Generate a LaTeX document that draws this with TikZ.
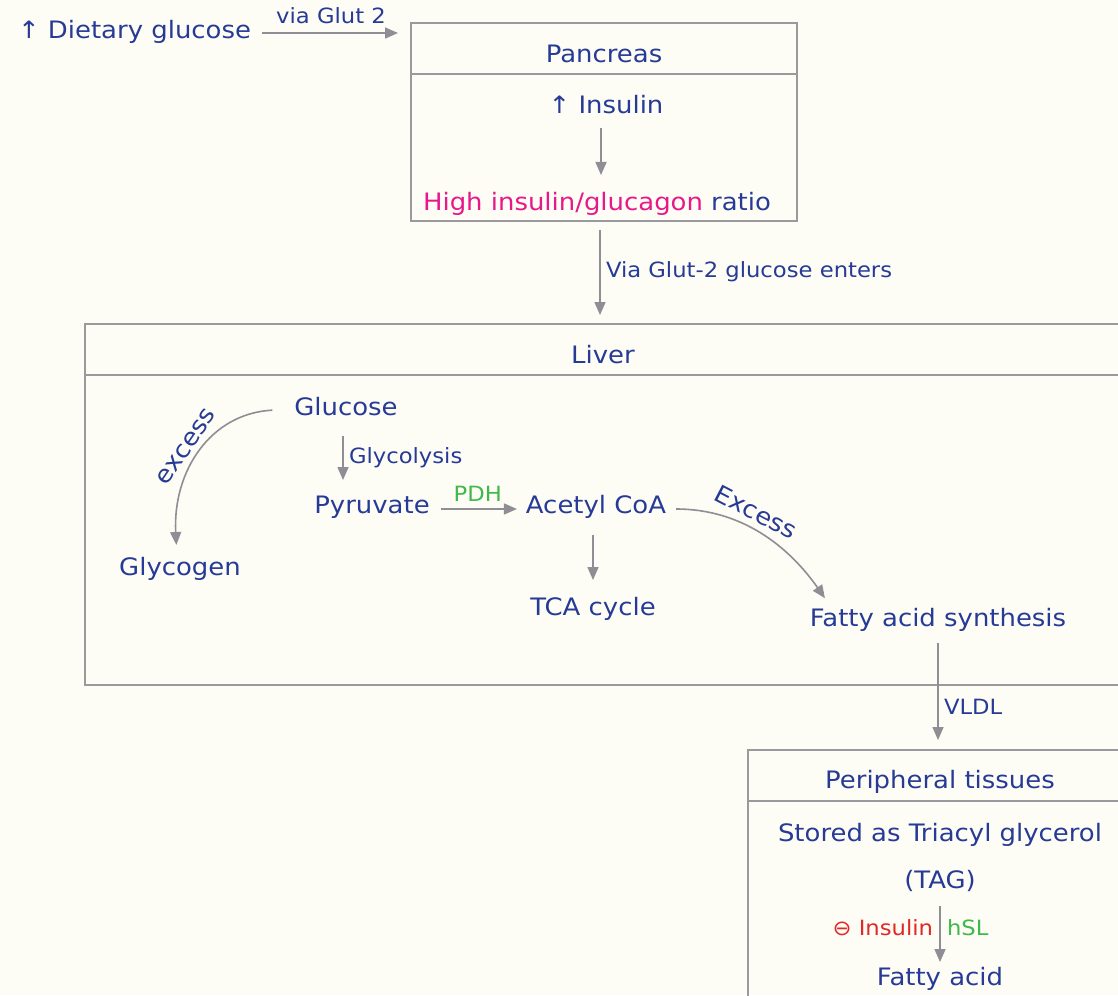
\documentclass[tikz,border=0pt]{standalone}
\usepackage{fontspec}
\setmainfont{DejaVu Sans}[FakeStretch=1.08]
\usetikzlibrary{arrows.meta}
\definecolor{paper}{HTML}{FDFDF5}
\definecolor{ink}{HTML}{263A96}
\definecolor{edge}{HTML}{9A9A9E}
\definecolor{wire}{HTML}{8E8E94}
\definecolor{hot}{HTML}{E8178A}
\definecolor{leaf}{HTML}{40B84A}
\definecolor{alarm}{HTML}{E02828}
\begin{document}
\begin{tikzpicture}[x=1pt,y=-1pt,
  every node/.style={inner sep=0pt, outer sep=0pt},
  txt/.style={text=ink, font=\fontsize{24}{28}\selectfont, text height=18pt, text depth=6pt},
  lbl/.style={text=ink, font=\fontsize{21}{25}\selectfont, text height=15pt, text depth=5pt},
  frame/.style={draw=edge, line width=1.6pt},
  divider/.style={draw=edge, line width=1.6pt},
  arr/.style={draw=wire, line width=1.6pt, -{Triangle[length=13pt,width=11pt]}},
]
\fill[paper] (0,0) rectangle (1118,995);
\useasboundingbox (0,0) rectangle (1118,995);
\clip (0,0) rectangle (1118,995);

% ---------- compartments ----------
\node[frame, anchor=north west, minimum width=386pt, minimum height=198pt] (pancreas) at (411,23) {};
\draw[divider] ([yshift=-51pt]pancreas.north west) -- ([yshift=-51pt]pancreas.north east);
\node[frame, anchor=north west, minimum width=1060pt, minimum height=361pt] (liver) at (85,324) {};
\draw[divider] ([yshift=-51pt]liver.north west) -- ([yshift=-51pt]liver.north east);
\node[frame, anchor=north west, minimum width=400pt, minimum height=300pt] (periph) at (748,750) {};
\draw[divider] ([yshift=-51pt]periph.north west) -- ([yshift=-51pt]periph.north east);

% ---------- texts ----------
\node[txt, anchor=east] (dietary) at (251,33) {↑ Dietary glucose};
\node[txt] (ptitle) at (604,57) {Pancreas};
\node[txt] (insulin) at (606,108) {↑ Insulin};
\node[txt] (ratio) at (597,205) {{\color{hot}High insulin/glucagon} ratio};
\node[txt] (ltitle) at (603,357) {Liver};
\node[txt] (glucose) at (346,409) {Glucose};
\node[txt] (glycogen) at (180,569) {Glycogen};
\node[txt] (pyruvate) at (372,507) {Pyruvate};
\node[txt] (acetyl) at (596,507) {Acetyl CoA};
\node[txt] (tca) at (593,609) {TCA cycle};
\node[txt] (fas) at (938,620) {Fatty acid synthesis};
\node[txt] (rtitle) at (940,782) {Peripheral tissues};
\node[txt] (stored) at (940,835) {Stored as Triacyl glycerol};
\node[txt] (tag) at (940,882) {(TAG)};
\node[txt] (fatty) at (940,979) {Fatty acid};

% ---------- connectors ----------
\draw[arr, shorten <=11pt, shorten >=13pt] (dietary.east) -- (dietary.east -| pancreas.west)
  node[midway, above=4pt, lbl] {via Glut 2};
\draw[arr, shorten <=8pt, shorten >=18pt] ([xshift=-5pt]insulin.south) -- ([xshift=-5pt]insulin.south |- ratio.north);
\draw[arr, shorten <=9pt, shorten >=9pt] ([xshift=-4pt]pancreas.south) -- ([xshift=-4pt]pancreas.south |- liver.north)
  node[midway, right=6pt, lbl] {Via Glut-2 glucose enters};
\draw[arr, shorten <=15pt, shorten >=15pt] ([xshift=-3pt]glucose.south) -- ([xshift=-3pt]glucose.south |- pyruvate.north)
  node[midway, right=6pt, lbl] {Glycolysis};
\draw[arr, shorten <=11pt, shorten >=9pt] ([yshift=-2pt]pyruvate.east) -- ([yshift=-2pt]pyruvate.east -| acetyl.west)
  node[midway, above=3pt, lbl, text=leaf] {PDH};
\draw[arr, shorten <=16pt, shorten >=17pt] ([xshift=-3pt]acetyl.south) -- ([xshift=-3pt]acetyl.south |- tca.north);
\draw[arr, shorten <=22pt, shorten >=12pt] (glucose.west) to[out=183, in=93, looseness=1.15]
  node[pos=0.52, sloped, above=4pt, txt] {excess} ([xshift=-3pt]glycogen.north);
\draw[arr, shorten <=10pt, shorten >=12pt] ([yshift=-2pt]acetyl.east) to[out=0, in=125]
  node[pos=0.42, sloped, above=3pt, txt] {Excess} ([xshift=22pt]fas.north west);
\draw[arr, shorten <=11pt, shorten >=10pt] (fas.south) -- (fas.south |- periph.north)
  node[pos=0.66, right=6pt, lbl] {VLDL};
\draw[arr, shorten <=12pt, shorten >=5pt] (tag.south) -- (fatty.north)
  node[midway, left=7pt, lbl, text=alarm] {⊖ Insulin}
  node[midway, right=7pt, lbl, text=leaf] {hSL};
\end{tikzpicture}
\end{document}
